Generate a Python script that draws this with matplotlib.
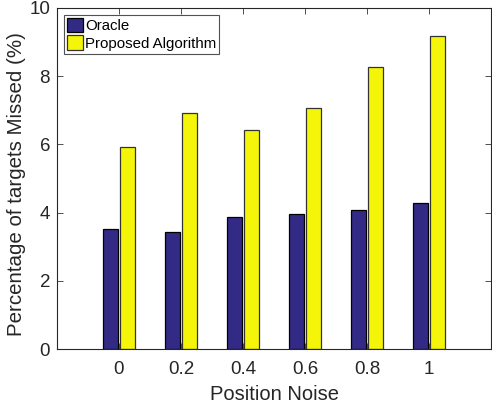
import matplotlib
matplotlib.use("Agg")
import matplotlib.pyplot as plt
import numpy as np

plt.rcParams['font.family'] = ['Liberation Sans', 'DejaVu Sans']

noise = [0, 0.2, 0.4, 0.6, 0.8, 1]
tick_labels = ['0', '0.2', '0.4', '0.6', '0.8', '1']
oracle = [3.53, 3.43, 3.88, 3.97, 4.07, 4.27]
proposed = [5.92, 6.91, 6.42, 7.07, 8.26, 9.17]

fig = plt.figure(figsize=(4.92, 4.09), dpi=100)
W, H = 492, 409
ax = fig.add_axes([57 / W, 1 - 349 / H, (491 - 57) / W, (349 - 8) / H])

x = np.array(noise)
bw = 0.048
off = 0.028
ax.bar(x - off, oracle, width=bw, color='#332a85', edgecolor='black', linewidth=0.9, label='Oracle')
ax.bar(x + off, proposed, width=bw, color='#f5f50a', edgecolor='#333333', linewidth=0.9, label='Proposed Algorithm')

ax.set_xlim(-0.2, 1.2)
ax.set_ylim(0, 10)
ax.set_xticks(noise)
ax.set_xticklabels(tick_labels)
ax.set_yticks([0, 2, 4, 6, 8, 10])
ax.tick_params(direction='in', top=True, right=True, labelsize=13.5, length=4, width=0.6,
               color='#333333', labelcolor='#262626')
ax.tick_params(axis='x', pad=9)
ax.tick_params(axis='y', pad=5)
for s in ax.spines.values():
    s.set_linewidth(0.8)
    s.set_color('#262626')
ax.set_xlabel('Position Noise', fontsize=14.5, color='#262626', labelpad=5)
ax.set_ylabel('Percentage of targets Missed (%)', fontsize=14.8, color='#262626')
ax.yaxis.set_label_coords(-0.071, 0.484)

leg = ax.legend(loc='upper left', fontsize=10.8,
                frameon=True, fancybox=False, edgecolor='#262626', handlelength=1.05, handleheight=1.1,
                handletextpad=0.15, borderpad=0.2, labelspacing=0.15, borderaxespad=0.45)
leg.get_frame().set_linewidth(0.8)

fig.savefig('out.png', dpi=100)
